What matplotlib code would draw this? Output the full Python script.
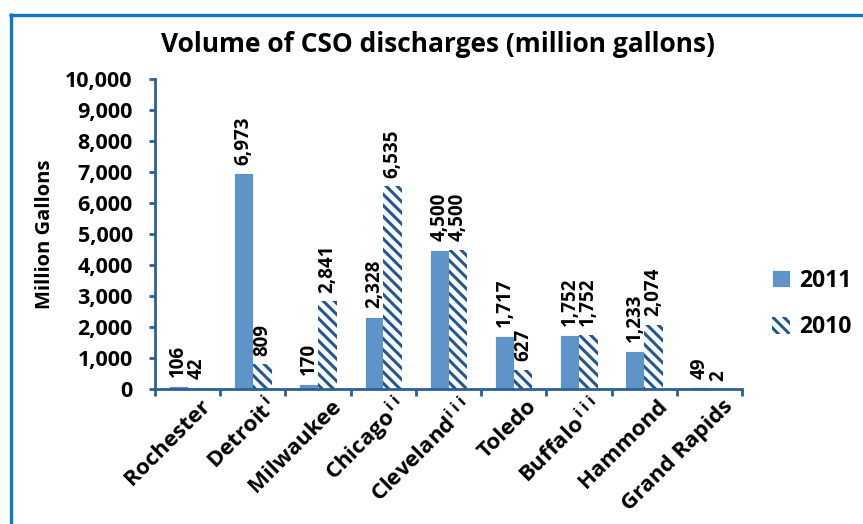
import matplotlib
matplotlib.use("Agg")
import matplotlib.pyplot as plt
from matplotlib.lines import Line2D
from matplotlib.ticker import FuncFormatter, MultipleLocator
import matplotlib.transforms as mtransforms

plt.rcParams['font.family'] = ['Open Sans', 'DejaVu Sans']
plt.rcParams['mathtext.fontset'] = 'custom'
plt.rcParams['mathtext.rm'] = 'Open Sans'
plt.rcParams['mathtext.bf'] = 'Open Sans:bold'
plt.rcParams['mathtext.it'] = 'Open Sans:italic'
plt.rcParams['hatch.color'] = '#24578f'
plt.rcParams['hatch.linewidth'] = 2.2

cities = ["Rochester", r"Detroit$^{\,\mathbf{i}}$", "Milwaukee", r"Chicago$^{\,\mathbf{i\ i}}$",
          r"Cleveland$^{\mathbf{i\ i\ i}}$", "Toledo", r"Buffalo$^{\,\mathbf{i\ i\ i}}$",
          "Hammond", "Grand Rapids"]
vol_2011 = [106, 6973, 170, 2328, 4500, 1717, 1752, 1233, 49]
vol_2010 = [42, 809, 2841, 6535, 4500, 627, 1752, 2074, 2]
series_names = ["2011", "2010"]

W, H = 863, 524
fig = plt.figure(figsize=(W / 100, H / 100), dpi=100)
fig.patch.set_facecolor('white')

frame_c = '#0b78c6'
fig.add_artist(Line2D([10.5 / W, 10.5 / W], [0, 1 - 13 / H], transform=fig.transFigure,
                      color=frame_c, lw=2.4, solid_capstyle='butt'))
fig.add_artist(Line2D([9 / W, 1], [1 - 14.5 / H, 1 - 14.5 / H], transform=fig.transFigure,
                      color=frame_c, lw=2.4, solid_capstyle='butt'))

ax = fig.add_axes([155 / W, (H - 389) / H, 587 / W, 310 / H])
x = list(range(len(cities)))
bw = 0.287
solid_c = '#5f94c9'
b1 = ax.bar([i - bw / 2 for i in x], vol_2011, width=bw, color=solid_c,
            edgecolor='white', linewidth=0.6, label=series_names[0], zorder=2)
b2 = ax.bar([i + bw / 2 for i in x], vol_2010, width=bw, color='white',
            edgecolor='#24578f', linewidth=0, hatch='\\\\\\', label=series_names[1], zorder=2)

for bars, vals in ((b1, vol_2011), (b2, vol_2010)):
    for r, v in zip(bars, vals):
        ax.annotate(f"{v:,}", (r.get_x() + r.get_width() / 2, v),
                    xytext=(0, 6), textcoords='offset points', rotation=90,
                    ha='center', va='bottom', fontsize=13.5, fontweight='bold')

ax.set_xlim(-0.5, len(cities) - 0.5)
ax.set_ylim(0, 10000)
ax.yaxis.set_major_locator(MultipleLocator(1000))
ax.yaxis.set_major_formatter(FuncFormatter(lambda v, p: f"{int(v):,}"))
spine_c = '#2c5f96'
for s in ('top', 'right'):
    ax.spines[s].set_visible(False)
for s in ('left', 'bottom'):
    ax.spines[s].set_color(spine_c)
    ax.spines[s].set_linewidth(2.0)
ax.set_xticks([i - 0.5 for i in x] + [len(cities) - 0.5])
ax.set_xticklabels([])
ax.tick_params(axis='x', length=5, width=2.0, color=spine_c, direction='out')
ax.tick_params(axis='y', length=4, width=2.0, color=spine_c, direction='out',
               labelsize=15.5, pad=12)
for lab in ax.get_yticklabels():
    lab.set_fontweight('bold')

offset = mtransforms.ScaledTranslation(20 / 100, -14 / 100, fig.dpi_scale_trans)
for i, c in enumerate(cities):
    ax.text(i, 0, c, transform=mtransforms.blended_transform_factory(ax.transData, ax.transAxes) + offset,
            rotation=45, rotation_mode='anchor', ha='right', va='center',
            fontsize=16, fontweight='bold')

ax.set_ylabel("Million Gallons", fontsize=14.5, fontweight='bold')
ax.yaxis.set_label_coords((55 - 155) / 587, 0.5)

fig.text(438 / W, 1 - 45 / H, "Volume of CSO discharges (million gallons)",
         ha='center', va='center', fontsize=19, fontweight='bold')

leg = fig.legend(handles=[b1, b2], labels=series_names, loc='center left',
                 bbox_to_anchor=(751 / W, 1 - 304 / H), frameon=False,
                 prop={'weight': 'bold', 'size': 16.5}, handlelength=0.8,
                 handleheight=0.8, labelspacing=1.0, handletextpad=0.4)

fig.savefig("out.png", dpi=100, facecolor='white')
